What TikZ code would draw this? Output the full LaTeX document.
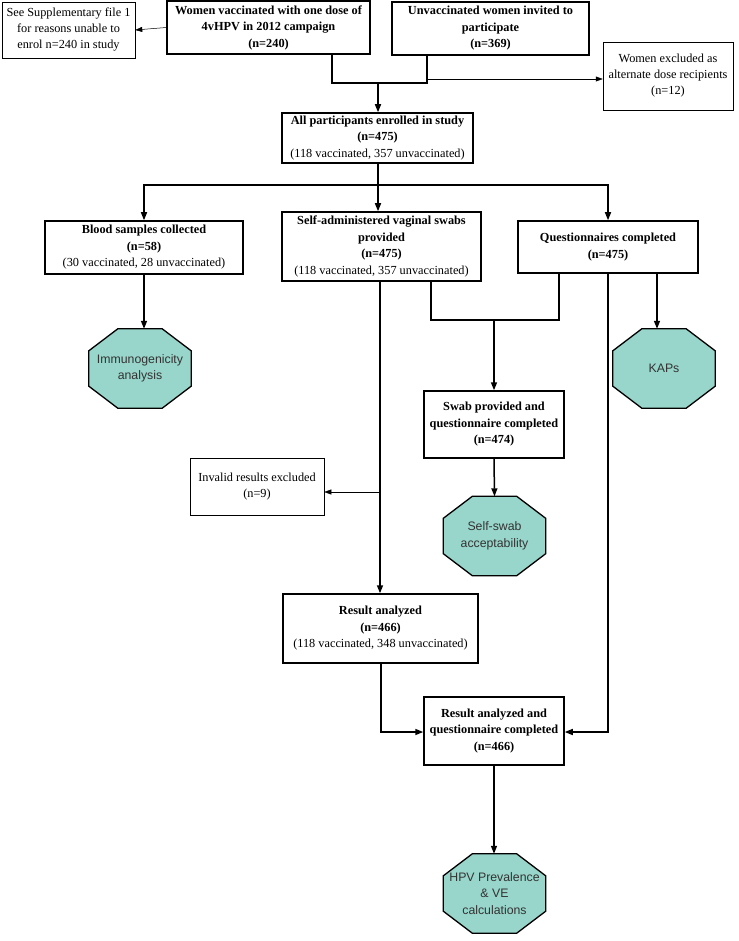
\documentclass[tikz,border=0pt]{standalone}
\usepackage{fontspec}
\setmainfont{Liberation Serif}
\setsansfont{Liberation Sans}
\usetikzlibrary{arrows.meta, positioning, calc, backgrounds}
\definecolor{OctTeal}{RGB}{152, 213, 202}
\definecolor{OctText}{RGB}{51, 51, 51}

\begin{document}
\begin{tikzpicture}[x=1pt, y=-1pt,
    mainbox/.style={draw, line width=1.5pt, align=center, inner sep=0pt, font=\bfseries\fontsize{12.3}{16.5}\selectfont},
    sidebox/.style={draw, line width=0.5pt, align=center, inner sep=0pt, font=\fontsize{12.3}{16}\selectfont},
    octbox/.style={align=center, inner sep=0pt, minimum width=102pt, minimum height=79pt, text=OctText, font=\sffamily\fontsize{12.3}{16.5}\selectfont},
    octshape/.style={draw, line width=1.3pt, fill=OctTeal},
    flow/.style={line width=1.5pt, -{Triangle[length=8pt,width=6pt]}},
    plain/.style={line width=1.5pt},
    side/.style={line width=0.5pt, -{Triangle[length=7pt,width=5pt]}}]
    \useasboundingbox (0,0) rectangle (738,941);
    \node[sidebox, minimum width=133pt, minimum height=56pt] (supp) at (68.5,30) {See Supplementary file 1\\for reasons unable to\\enrol n=240 in study};
    \node[mainbox, minimum width=203pt, minimum height=53pt] (vacc) at (268.5,27.5) {Women vaccinated with one dose of\\4vHPV in 2012 campaign\\(n=240)};
    \node[mainbox, minimum width=197pt, minimum height=53pt] (unvacc) at (490.5,28.5) {Unvaccinated women invited to\\participate\\(n=369)};
    \node[sidebox, minimum width=130pt, minimum height=68pt] (excl) at (668,76) {Women excluded as\\alternate dose recipients\\(n=12)};
    \node[mainbox, minimum width=191pt, minimum height=50pt] (all) at (377.5,138) {All participants enrolled in study\\(n=475)\\{\mdseries(118 vaccinated, 357 unvaccinated)}};
    \node[mainbox, minimum width=198pt, minimum height=53pt] (blood) at (144,247.5) {Blood samples collected\\(n=58)\\{\mdseries(30 vaccinated, 28 unvaccinated)}};
    \node[mainbox, minimum width=199pt, minimum height=69pt] (self) at (381.5,246.5) {Self-administered vaginal swabs\\provided\\(n=475)\\{\mdseries(118 vaccinated, 357 unvaccinated)}};
    \node[mainbox, minimum width=180pt, minimum height=52pt] (quest) at (608,247) {Questionnaires completed\\(n=475)};
    \node[octbox] (immuno) at (140,368.5) {Immunogenicity\\analysis};
    \node[octbox] (kaps) at (664,368.5) {KAPs};
    \node[mainbox, minimum width=140pt, minimum height=67pt] (swab) at (494,424.5) {Swab provided and\\questionnaire completed\\(n=474)};
    \node[sidebox, minimum width=134pt, minimum height=57pt] (invalid) at (257,486.5) {Invalid results excluded\\(n=9)};
    \node[octbox] (selfswab) at (494.5,536) {Self-swab\\acceptability};
    \node[mainbox, minimum width=195pt, minimum height=69pt] (result) at (380.5,628.5) {Result analyzed\\(n=466)\\{\mdseries(118 vaccinated, 348 unvaccinated)}};
    \node[mainbox, minimum width=140pt, minimum height=68pt] (final) at (494,731) {Result analyzed and\\questionnaire completed\\(n=466)};
    \node[octbox] (hpv) at (494.5,893.5) {HPV Prevalence\\\& VE\\calculations};
    \begin{scope}[on background layer]
        \foreach \o in {immuno, kaps, selfswab, hpv}
            \path[octshape] ($(\o.north west)+(29,0)$) -- ($(\o.north east)+(-29,0)$) -- ($(\o.north east)+(0,22)$) -- ($(\o.south east)+(0,-22)$) -- ($(\o.south east)+(-29,0)$) -- ($(\o.south west)+(29,0)$) -- ($(\o.south west)+(0,-22)$) -- ($(\o.north west)+(0,22)$) -- cycle;
    \end{scope}
    \coordinate (jtop) at (378,83);
    \coordinate (jvacc) at (332,83);
    \coordinate (junv) at (427,83);
    \coordinate (jexcl) at (427,79);
    \coordinate (jall) at (378,185);
    \coordinate (sa) at (431,320);
    \coordinate (qa) at (559,320);
    \coordinate (jswab) at (494,320);
    \coordinate (sr) at (380,492);
    \coordinate (rf) at (381,732);
    \coordinate (qf) at (608,732);
    \coordinate (qk) at (657,300);
    \draw[side] (vacc.west) -- (supp.east);
    \draw[plain] (jvacc |- vacc.south) -- (jvacc) -- (jtop);
    \draw[plain] (junv |- unvacc.south) -- (junv) -- (jtop);
    \draw[side] (jexcl) -- (jexcl -| excl.west);
    \draw[flow] (jtop) -- (jtop |- all.north);
    \draw[plain] (jall |- all.south) -- (jall);
    \draw[flow] (jall) -| (blood.north);
    \draw[flow] (jall) -| (quest.north);
    \draw[flow] (jall) -- (jall |- self.north);
    \draw[flow] (blood.south) -- (blood.south |- immuno.north);
    \draw[flow] (qk |- quest.south) -- (qk |- kaps.north);
    \draw[plain] (sa |- self.south) -- (sa) -- (qa) -- (qa |- quest.south);
    \draw[flow] (jswab) -- (swab.north);
    \draw[flow] (swab.south) -- (selfswab.north);
    \draw[flow] (sr |- self.south) -- (sr |- result.north);
    \draw[side] (sr) -- (sr -| invalid.east);
    \draw[flow] (rf |- result.south) -- (rf) -- (rf -| final.west);
    \draw[flow] (qf |- quest.south) -- (qf) -- (qf -| final.east);
    \draw[flow] (final.south) -- (final.south |- hpv.north);
\end{tikzpicture}
\end{document}
